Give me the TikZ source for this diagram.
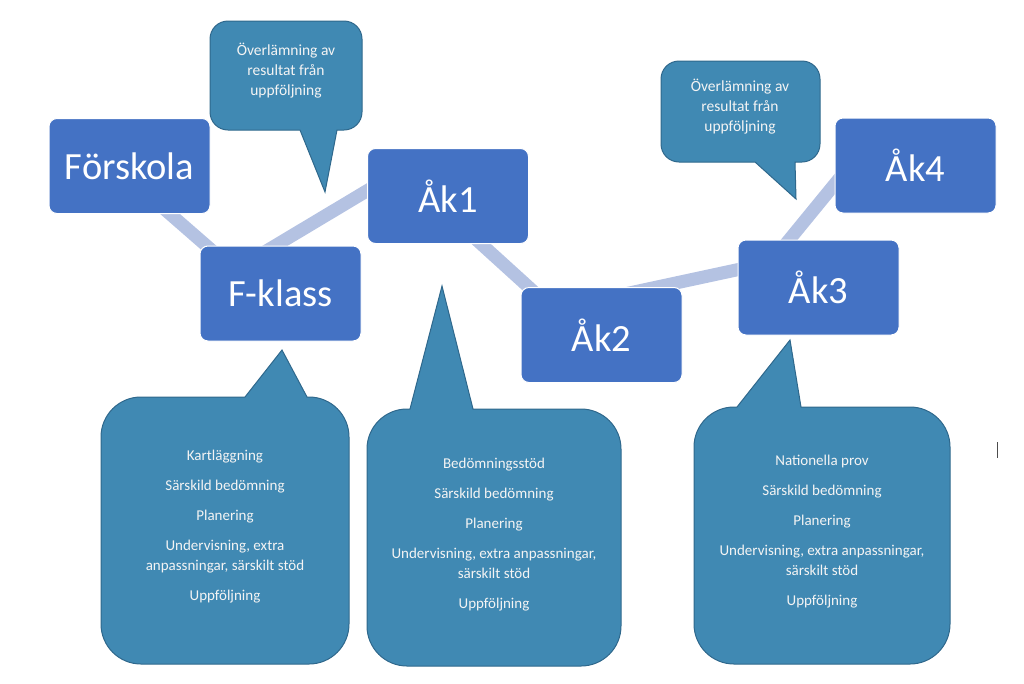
\documentclass[tikz,border=0pt]{standalone}
\usepackage{fontspec}
\setmainfont{Carlito}
\pgfdeclarelayer{background}
\pgfsetlayers{background,main}
\definecolor{boxblue}{RGB}{68,114,196}
\definecolor{calfill}{RGB}{64,137,179}
\definecolor{caldraw}{RGB}{47,104,140}
\definecolor{linkcol}{RGB}{180,194,226}
\definecolor{caltext}{RGB}{244,244,244}
\tikzset{
  stagebox/.style={rectangle, rounded corners=8pt, fill=boxblue, draw=white,
    line width=1pt, minimum width=161pt, minimum height=95pt, inner sep=0pt,
    text=white, font=\fontsize{38.5}{46}\selectfont},
  link/.style={draw=linkcol, line width=13pt},
  calloutshape/.style={fill=calfill, draw=caldraw, line width=1pt, line join=miter},
  callouttext/.style={align=center, text=caltext, inner sep=0pt,
    font=\fontsize{15}{20}\selectfont},
  smalltext/.style={align=center, text=caltext, inner sep=0pt,
    font=\fontsize{15.5}{20}\selectfont}
}
% pointer on top edge
\newcommand{\calloutup}[9]{%
  \path[calloutshape] (#6,#2) -- (#8,#9) -- (#7,#2) -- ({#3-#5},#2)
    arc[start angle=-90, end angle=0, radius=#5] -- (#3,{#4-#5})
    arc[start angle=0, end angle=90, radius=#5] -- ({#1+#5},#4)
    arc[start angle=90, end angle=180, radius=#5] -- (#1,{#2+#5})
    arc[start angle=180, end angle=270, radius=#5] -- cycle;}
% pointer on bottom edge
\newcommand{\calloutdown}[9]{%
  \path[calloutshape] ({#1+#5},#2) -- ({#3-#5},#2)
    arc[start angle=-90, end angle=0, radius=#5] -- (#3,{#4-#5})
    arc[start angle=0, end angle=90, radius=#5] -- (#7,#4) -- (#8,#9) -- (#6,#4)
    -- ({#1+#5},#4)
    arc[start angle=90, end angle=180, radius=#5] -- (#1,{#2+#5})
    arc[start angle=180, end angle=270, radius=#5] -- cycle;}
\begin{document}
\begin{tikzpicture}[x=1pt,y=-1pt]
\useasboundingbox (0,0) rectangle (1024,683);

% stage boxes
\node[stagebox] (forskola) at (129.5,166) {Förskola};
\node[stagebox] (fklass) at (280.5,293.5) {F-klass};
\node[stagebox] (ak1) at (448,196) {Åk1};
\node[stagebox] (ak2) at (601.5,335) {Åk2};
\node[stagebox] (ak3) at (818.5,287.5) {Åk3};
\node[stagebox] (ak4) at (915.5,165.5) {Åk4};

% connectors behind the boxes
\begin{pgfonlayer}{background}
\draw[link] ([shift={(16.5,27)}]forskola.center) -- ([shift={(-56.5,-32.5)}]fklass.center);
\draw[link] ([shift={(-22.5,-37.5)}]fklass.center) -- ([shift={(-63,-16)}]ak1.center);
\draw[link] ([shift={(20,36)}]ak1.center) -- ([shift={(-57.5,-34)}]ak2.center);
\draw[link] ([shift={(18.5,-40)}]ak2.center) -- ([shift={(-68.5,-20.5)}]ak3.center);
\draw[link] ([shift={(-38.5,-36.5)}]ak3.center) -- ([shift={(-72.5,8.5)}]ak4.center);
\end{pgfonlayer}

% top callouts
\calloutdown{210}{21}{362}{130}{18}{300}{337}{325}{192}
\node[smalltext] (ov1) at (286,71) {Överlämning av\\resultat från\\uppföljning};
\calloutdown{661}{61}{820}{162}{18}{755}{795}{796}{199}
\node[smalltext] (ov2) at (740,107) {Överlämning av\\resultat från\\uppföljning};

% bottom callouts
\calloutup{101}{397}{349}{664}{40}{245}{307}{282}{350}
\node[callouttext] (t1) at (225,527) {Kartläggning\\[10pt]Särskild bedömning\\[10pt]Planering\\[10pt]Undervisning, extra\\anpassningar, särskilt stöd\\[10pt]Uppföljning};
\calloutup{367}{409}{621}{666}{40}{410}{473}{442}{286}
\node[callouttext] (t2) at (494,535) {Bedömningsstöd\\[10pt]Särskild bedömning\\[10pt]Planering\\[10pt]Undervisning, extra anpassningar,\\särskilt stöd\\[10pt]Uppföljning};
\calloutup{694}{407}{950}{664}{40}{737}{801}{790}{340}
\node[callouttext] (t3) at (822,532) {Nationella prov\\[10pt]Särskild bedömning\\[10pt]Planering\\[10pt]Undervisning, extra anpassningar,\\särskilt stöd\\[10pt]Uppföljning};

% small cursor mark
\coordinate (cura) at (997.5,442);
\coordinate (curb) at (997.5,458);
\draw[black!70, line width=1.5pt] (cura) -- (curb);
\end{tikzpicture}
\end{document}
